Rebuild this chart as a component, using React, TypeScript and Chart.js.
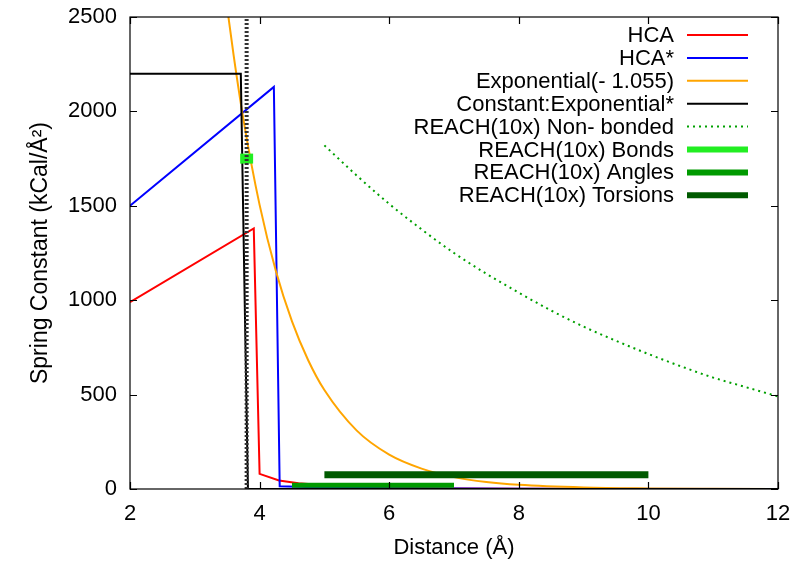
import React, { useEffect, useRef } from "react";
import { Chart, registerables } from "chart.js";

Chart.register(...registerables);

const FONT = "'Liberation Sans', Arial, Helvetica, sans-serif";

// Axis ticks
const xTickValues = [2, 4, 6, 8, 10, 12];
const yTickValues = [0, 500, 1000, 1500, 2000, 2500];

// Series data
const hcaX = [2, 3.91, 4.0, 4.3, 4.6, 5, 5.5, 6, 7, 8, 10, 12];
const hcaY = [990, 1380, 80, 45, 30, 20, 12, 7, 3, 1, 0, 0];

const hcaStarX = [2, 4.22, 4.31, 5, 6, 8, 12];
const hcaStarY = [1500, 2130, 15, 8, 4, 1, 0];

const expX = [3.5, 3.6, 3.75, 4, 4.25, 4.5, 4.75, 5, 5.5, 6, 6.5, 7, 7.5, 8, 9, 10, 11, 12];
const expY = [2549, 2295, 1958, 1505, 1156, 888, 682, 524, 309, 182, 108, 63, 37, 22, 8, 3, 1, 0.3];

const constExpX = [2, 3.71, 3.82, 12];
const constExpY = [2200, 2200, 0, 0];

const nonBondedX = [5, 5.5, 6, 6.5, 7, 7.5, 8, 8.5, 9, 9.5, 10, 10.5, 11, 11.5, 12];
const nonBondedY = [1820, 1660, 1510, 1375, 1250, 1140, 1040, 945, 860, 785, 715, 650, 590, 540, 490];

const bondsX = [3.7, 3.9];
const bondsY = [1750, 1750];

const anglesX = [4.5, 7.0];
const anglesY = [20, 20];

const torsionsX = [5, 10];
const torsionsY = [75, 75];

const cutoffX = [3.8, 3.8];
const cutoffY = [0, 2500];

const labels = [
  "HCA",
  "HCA*",
  "Exponential(- 1.055)",
  "Constant:Exponential*",
  "REACH(10x) Non- bonded",
  "REACH(10x) Bonds",
  "REACH(10x) Angles",
  "REACH(10x) Torsions",
];

const pts = (xs: number[], ys: number[]) => xs.map((x, i) => ({ x, y: ys[i] }));

type Series = {
  label: string;
  xs: number[];
  ys: number[];
  color: string;
  width: number;
  legendWidth: number;
  dash?: number[];
  smooth?: boolean;
  legend: boolean;
};

const series: Series[] = [
  { label: labels[0], xs: hcaX, ys: hcaY, color: "#ff0000", width: 2, legendWidth: 2, legend: true },
  { label: labels[1], xs: hcaStarX, ys: hcaStarY, color: "#0000ff", width: 2, legendWidth: 2, legend: true },
  { label: labels[2], xs: expX, ys: expY, color: "#ffa500", width: 2, legendWidth: 2, smooth: true, legend: true },
  { label: labels[3], xs: constExpX, ys: constExpY, color: "#000000", width: 2, legendWidth: 2, legend: true },
  { label: labels[4], xs: nonBondedX, ys: nonBondedY, color: "#00a000", width: 2, legendWidth: 2, dash: [2, 4], smooth: true, legend: true },
  { label: labels[5], xs: bondsX, ys: bondsY, color: "#22ee22", width: 10, legendWidth: 6, legend: true },
  { label: labels[6], xs: anglesX, ys: anglesY, color: "#009a00", width: 5, legendWidth: 6, legend: true },
  { label: labels[7], xs: torsionsX, ys: torsionsY, color: "#005a00", width: 7, legendWidth: 6, legend: true },
  { label: "", xs: cutoffX, ys: cutoffY, color: "#333333", width: 4, legendWidth: 0, dash: [2, 2], legend: false },
];

const framePlugin = {
  id: "frameAndLegend",
  afterDatasetsDraw(chart: any) {
    const { ctx, chartArea } = chart;
    const { left, right, top, bottom } = chartArea;
    const xs = chart.scales.x;
    const ys = chart.scales.y;
    ctx.save();
    ctx.strokeStyle = "#000";
    ctx.lineWidth = 1.2;
    ctx.setLineDash([]);
    ctx.strokeRect(left, top, right - left, bottom - top);
    const tl = 7;
    ctx.beginPath();
    xTickValues.forEach((v) => {
      const p = Math.round(xs.getPixelForValue(v)) + 0.5;
      ctx.moveTo(p, bottom);
      ctx.lineTo(p, bottom - tl);
      ctx.moveTo(p, top);
      ctx.lineTo(p, top + tl);
    });
    yTickValues.forEach((v) => {
      const p = Math.round(ys.getPixelForValue(v)) + 0.5;
      ctx.moveTo(left, p);
      ctx.lineTo(left + tl, p);
      ctx.moveTo(right, p);
      ctx.lineTo(right - tl, p);
    });
    ctx.stroke();

    // Legend
    ctx.font = `22px ${FONT}`;
    ctx.textAlign = "right";
    ctx.textBaseline = "middle";
    ctx.fillStyle = "#000";
    let row = 0;
    series.forEach((s) => {
      if (!s.legend) return;
      const y = top + 18 + row * 22.9;
      ctx.fillText(s.label, right - 104, y + 1);
      ctx.beginPath();
      ctx.strokeStyle = s.color;
      ctx.lineWidth = s.legendWidth;
      ctx.setLineDash(s.dash ?? []);
      ctx.moveTo(right - 91, y);
      ctx.lineTo(right - 30, y);
      ctx.stroke();
      row++;
    });
    ctx.restore();
  },
};

export default function App() {
  const ref = useRef<HTMLCanvasElement>(null);
  useEffect(() => {
    if (!ref.current) return;
    const chart = new Chart(ref.current, {
      type: "line",
      data: {
        datasets: series.map((s, i) => ({
          label: s.label,
          data: pts(s.xs, s.ys),
          borderColor: s.color,
          backgroundColor: s.color,
          borderWidth: s.width,
          borderDash: s.dash ?? [],
          pointRadius: 0,
          tension: 0,
          cubicInterpolationMode: s.smooth ? "monotone" : "default",
          fill: false,
          order: -i,
        })) as any,
      },
      options: {
        animation: false,
        responsive: false,
        maintainAspectRatio: false,
        parsing: true,
        layout: { padding: { top: 17, right: 22, left: 0, bottom: 0 } },
        plugins: {
          legend: { display: false },
          tooltip: { enabled: false },
        },
        scales: {
          x: {
            type: "linear",
            min: 2,
            max: 12,
            afterFit: (scale: any) => {
              scale.height = 79;
              scale.paddingLeft = 0;
              scale.paddingRight = 0;
            },
            afterBuildTicks: (scale: any) => {
              scale.ticks = xTickValues.map((v) => ({ value: v }));
            },
            grid: { display: false },
            border: { display: false },
            ticks: {
              color: "#000",
              font: { family: FONT, size: 22 },
              padding: 4,
              maxRotation: 0,
              callback: (v: any) => String(v),
            },
            title: {
              display: true,
              text: "Distance (Å)",
              color: "#000",
              font: { family: FONT, size: 22 },
              padding: { top: 0, bottom: 7 },
            },
          },
          y: {
            type: "linear",
            min: 0,
            max: 2500,
            afterFit: (scale: any) => {
              scale.width = 130;
              scale.paddingTop = 0;
              scale.paddingBottom = 0;
            },
            afterBuildTicks: (scale: any) => {
              scale.ticks = yTickValues.map((v) => ({ value: v }));
            },
            grid: { display: false },
            border: { display: false },
            ticks: {
              color: "#000",
              font: { family: FONT, size: 22 },
              padding: 5,
              callback: (v: any) => String(v),
            },
            title: {
              display: true,
              text: "Spring Constant (kCal/Å²)",
              color: "#000",
              font: { family: FONT, size: 23 },
              padding: { top: 27, bottom: 0 },
            },
          },
        },
      },
      plugins: [framePlugin],
    });
    return () => chart.destroy();
  }, []);

  return (
    <div style={{ position: "absolute", left: 0, top: 0, width: 800, height: 568, background: "#fff" }}>
      <canvas ref={ref} width={800} height={568} style={{ width: 800, height: 568, display: "block" }} />
    </div>
  );
}
